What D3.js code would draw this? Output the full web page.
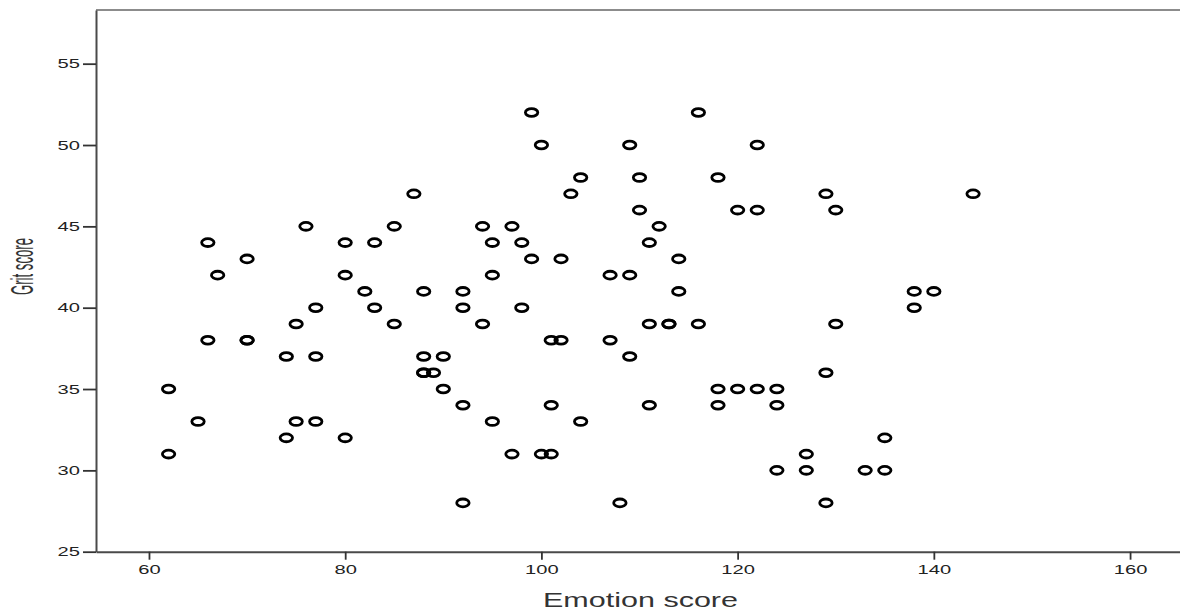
<!DOCTYPE html>
<html>
<head>
<meta charset="utf-8">
<script src="https://cdn.jsdelivr.net/npm/d3@7"></script>
<style>
  html, body { margin: 0; padding: 0; background: #fff; }
  svg { display: block; }
  .tick text { font-family: "Liberation Sans", Arial, sans-serif; fill: #222; }
</style>
</head>
<body>
<svg id="chart" width="1180" height="611"></svg>
<script>
/* ---- Data: one point per respondent ---- */
var emotion = [
  99, 116,
  100, 109, 122,
  104, 110, 118,
  87, 103, 129, 144,
  110, 120, 122, 130,
  76, 85, 94, 97, 112,
  66, 80, 83, 95, 98, 111,
  70, 99, 102, 114,
  67, 80, 95, 107, 109,
  82, 88, 92, 114, 138, 140,
  77, 83, 92, 98, 138,
  75, 85, 94, 111, 113, 113, 116, 130,
  66, 70, 70, 101, 102, 107,
  74, 77, 88, 90, 109,
  88, 88, 89, 129,
  62, 90, 118, 120, 122, 124,
  92, 101, 111, 118, 124,
  65, 75, 77, 95, 104,
  74, 80, 135,
  62, 97, 100, 101, 127,
  124, 127, 133, 135,
  92, 108, 129
];
var grit = [
  52, 52,
  50, 50, 50,
  48, 48, 48,
  47, 47, 47, 47,
  46, 46, 46, 46,
  45, 45, 45, 45, 45,
  44, 44, 44, 44, 44, 44,
  43, 43, 43, 43,
  42, 42, 42, 42, 42,
  41, 41, 41, 41, 41, 41,
  40, 40, 40, 40, 40,
  39, 39, 39, 39, 39, 39, 39, 39,
  38, 38, 38, 38, 38, 38,
  37, 37, 37, 37, 37,
  36, 36, 36, 36,
  35, 35, 35, 35, 35, 35,
  34, 34, 34, 34, 34,
  33, 33, 33, 33, 33,
  32, 32, 32,
  31, 31, 31, 31, 31,
  30, 30, 30, 30,
  28, 28, 28
];
var xTicks = [60, 80, 100, 120, 140, 160];
var yTicks = [25, 30, 35, 40, 45, 50, 55];
var xTitle = "Emotion score";
var yTitle = "Grit score";

(function () {
  var svg = d3.select("#chart");

  // plot box (right side runs past the picture edge, as in the source)
  var left = 96, top = 10, bottom = 551.7, right = 1185;

  var x = d3.scaleLinear().domain([54.6, 165.6]).range([left, right]);
  var y = d3.scaleLinear().domain([25, 58.3]).range([bottom, top]);

  // top frame line
  svg.append("line")
    .attr("x1", left).attr("x2", 1180)
    .attr("y1", top).attr("y2", top)
    .attr("stroke", "#8c8c8c")
    .attr("stroke-width", 2);

  /* ---- Axes ---- */
  function stretch(sel) {
    // source image is horizontally stretched, so widen the digits
    sel.selectAll(".tick text")
      .attr("font-size", 13)
      .attr("textLength", function (d) { return String(d).length * 11.2; })
      .attr("lengthAdjust", "spacingAndGlyphs");
  }

  var gx = svg.append("g")
    .attr("transform", "translate(0," + bottom + ")")
    .call(d3.axisBottom(x).tickValues(xTicks).tickSize(8).tickSizeOuter(0).tickPadding(5));
  stretch(gx);

  var gy = svg.append("g")
    .attr("transform", "translate(" + left + ",0)")
    .call(d3.axisLeft(y).tickValues(yTicks).tickSize(13).tickSizeOuter(0).tickPadding(3));
  stretch(gy);

  [gx, gy].forEach(function (g) {
    g.select(".domain").attr("stroke", "#4a4a4a").attr("stroke-width", 2);
    g.selectAll(".tick line").attr("stroke", "#333").attr("stroke-width", 1.8);
  });

  /* ---- Titles ---- */
  svg.append("text")
    .attr("x", 640.5)
    .attr("y", 606.5)
    .attr("text-anchor", "middle")
    .attr("font-family", "Liberation Sans, Arial, sans-serif")
    .attr("font-size", 19.5)
    .attr("fill", "#333")
    .attr("textLength", 195)
    .attr("lengthAdjust", "spacingAndGlyphs")
    .text(xTitle);

  svg.append("text")
    .attr("transform", "translate(33,266.5) rotate(-90)")
    .attr("text-anchor", "middle")
    .attr("font-family", "Liberation Sans Narrow, Liberation Sans, Arial, sans-serif")
    .attr("font-size", 32)
    .attr("fill", "#333")
    .attr("textLength", 57)
    .attr("lengthAdjust", "spacingAndGlyphs")
    .text(yTitle);

  /* ---- Points ---- */
  var pts = emotion.map(function (e, i) { return { e: e, g: grit[i] }; });

  svg.append("g")
    .selectAll("ellipse")
    .data(pts)
    .join("ellipse")
    .attr("cx", function (d) { return x(d.e); })
    .attr("cy", function (d) { return y(d.g); })
    .attr("rx", 6.2)
    .attr("ry", 3.9)
    .attr("fill", "none")
    .attr("stroke", "#000")
    .attr("stroke-width", 2.8);
})();
</script>
</body>
</html>
